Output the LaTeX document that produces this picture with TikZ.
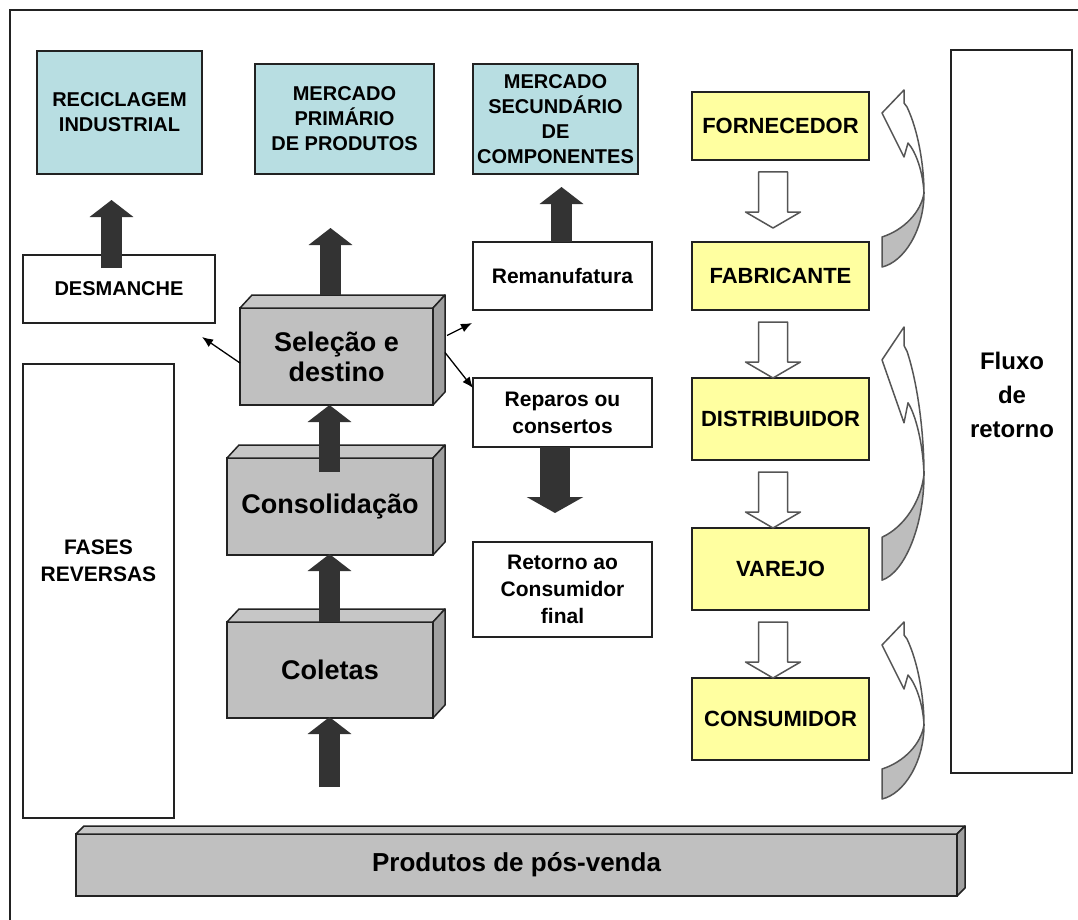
\documentclass[tikz,border=0pt]{standalone}
\usepackage{fontspec}
\setmainfont{Liberation Sans}
\usetikzlibrary{arrows.meta,calc}

\definecolor{bluebox}{RGB}{184,222,226}
\definecolor{yellowbox}{RGB}{255,255,160}
\definecolor{boxgray}{RGB}{192,192,192}
\definecolor{topgray}{RGB}{198,198,198}
\definecolor{sidegray}{RGB}{160,160,160}
\definecolor{arrowdark}{RGB}{51,51,51}
\definecolor{edgecol}{RGB}{34,34,34}
\definecolor{outlinegray}{RGB}{85,85,85}

\newcommand{\fs}[2]{\bfseries\fontsize{#1}{#2}\selectfont}

\tikzset{
  box/.style={draw=edgecol,line width=1.5pt,align=center,inner sep=0pt,outer sep=0pt},
  bluenode/.style={box,fill=bluebox,font=\fs{20}{25}},
  whitenode/.style={box,fill=white,font=\fs{21}{27}},
  yellownode/.style={box,fill=yellowbox,font=\fs{22}{27}},
  solidnode/.style={box,fill=boxgray,font=\fs{27}{30}},
  facetop/.style={draw=edgecol,line width=1.5pt,fill=topgray,line join=round},
  faceside/.style={draw=edgecol,line width=1.5pt,fill=sidegray,line join=round},
  darkup/.style={draw=arrowdark,line width=21pt,-{Triangle[length=17pt,width=43pt]},arrowdark},
  darkdown/.style={draw=arrowdark,line width=30pt,-{Triangle[length=16pt,width=56pt]},arrowdark},
  thinarrow/.style={draw=black,line width=1.3pt,-{Latex[length=11pt,width=9pt]}},
  hollowdown/.pic={
    \draw[draw=outlinegray,line width=1.5pt,fill=white,line join=round]
      (-14.5,0) -- (14.5,0) -- (14.5,40) -- (27.5,40) -- (0,56)
      -- (-27.5,40) -- (-14.5,40) -- cycle;
  },
  returnarrow/.pic={
    % lower, turned-over part of the ribbon
    \draw[draw=outlinegray,line width=1.5pt,fill=sidegray!70!white,line join=round]
      (20,103) .. controls (20,140) and (0,172) .. (-22,177)
      -- (-22,147) .. controls (0,140) and (17,122) .. (20,103) -- cycle;
    % upper part of the ribbon with its head
    \draw[draw=outlinegray,line width=1.5pt,fill=white,line join=round]
      (0,0) -- (0,13) -- (3,17) .. controls (14,40) and (20,75) .. (20,103)
      .. controls (19,82) and (12,62) .. (4,53) -- (0,67) -- (-22,23) -- cycle;
  }
}

\begin{document}
\begin{tikzpicture}[x=1pt,y=-1pt]
\useasboundingbox (0,0) rectangle (1078,920);
\fill[white] (0,0) rectangle (1078,920);

% outer frame
\draw[line width=1.5pt,edgecol] (10,920) -- (10,10) -- (1078,10);

% destinations
\node[bluenode,minimum width=165pt,minimum height=123pt] (recic) at (119.5,112.5) {RECICLAGEM\\INDUSTRIAL};
\node[bluenode,minimum width=179pt,minimum height=110pt] (mprim) at (344.5,119) {MERCADO\\PRIMÁRIO\\DE PRODUTOS};
\node[bluenode,minimum width=165pt,minimum height=110pt] (msec) at (555.5,119) {MERCADO\\SECUNDÁRIO\\DE\\COMPONENTES};

% left column
\node[box,fill=white,font=\fs{20}{25},minimum width=192pt,minimum height=68pt] (desm) at (119,289) {DESMANCHE};
\node[box,fill=white,minimum width=151pt,minimum height=454pt] (fases) at (98.5,591) {};
\node[font=\fs{21}{27},align=center] (fasestxt) at (98.5,561) {FASES\\REVERSAS};

% reverse phases (solid blocks)
\node[solidnode,minimum width=193pt,minimum height=97pt] (sel) at (336.5,356.5) {Seleção e\\destino};
\node[solidnode,minimum width=206pt,minimum height=97pt] (cons) at (330,506.5) {Consolidação};
\node[solidnode,minimum width=206pt,minimum height=96pt] (colet) at (330,670) {Coletas};
\foreach \b in {sel,cons,colet}{
  \draw[facetop] (\b.north west) -- ++(12,-13) -- ($(\b.north east)+(12,-13)$) -- (\b.north east) -- cycle;
  \draw[faceside] (\b.north east) -- ++(12,-13) -- ($(\b.south east)+(12,-13)$) -- (\b.south east) -- cycle;
}

% middle column
\node[whitenode,minimum width=179pt,minimum height=68pt] (reman) at (562.5,276) {Remanufatura};
\node[whitenode,minimum width=179pt,minimum height=69pt] (repar) at (562.5,412.5) {Reparos ou\\consertos};
\node[whitenode,minimum width=179pt,minimum height=95pt] (retor) at (562.5,589.5) {Retorno ao\\Consumidor\\final};

% forward chain
\node[yellownode,minimum width=177pt,minimum height=68pt] (forn) at (780.5,126) {FORNECEDOR};
\node[yellownode,minimum width=177pt,minimum height=68pt] (fabr) at (780.5,276) {FABRICANTE};
\node[yellownode,minimum width=177pt,minimum height=82pt] (dist) at (780.5,419) {DISTRIBUIDOR};
\node[yellownode,minimum width=177pt,minimum height=82pt] (varj) at (780.5,569) {VAREJO};
\node[yellownode,minimum width=177pt,minimum height=82pt] (cons2) at (780.5,719) {CONSUMIDOR};

% return flow column
\node[box,fill=white,minimum width=121pt,minimum height=723pt] (fluxo) at (1011.5,411.5) {};
\node[font=\fs{24}{34},align=center] (fluxotxt) at (1012,395) {Fluxo\\de\\retorno};

% after-sales products bar
\node[box,fill=boxgray,font=\fs{26}{30},minimum width=881pt,minimum height=62pt] (bar) at (516.5,865) {Produtos de pós-venda};
\draw[facetop] (bar.north west) -- ++(8,-8) -- ($(bar.north east)+(8,-8)$) -- (bar.north east) -- cycle;
\draw[faceside] (bar.north east) -- ++(8,-8) -- ($(bar.south east)+(8,-8)$) -- (bar.south east) -- cycle;

% dark block arrows
\coordinate (inflow) at ($(colet.south)+(-0.5,69)$);
\draw[darkup] ($(desm.north)+(-7.5,13)$) -- ($(recic.south)+(-8,26)$);
\draw[darkup] ($(sel.north)+(-6,-13)$) -- ($(mprim.south)+(-14,54)$);
\draw[darkup] (reman.north -| msec.south) ++(6,0) coordinate (rs) -- ($(msec.south)+(6,13)$);
\draw[darkup] ($(cons.north)+(-0.5,14)$) -- ($(sel.south)+(-7,0)$);
\draw[darkup] ($(colet.north)+(-0.5,0)$) -- ($(cons.south)+(-0.5,-1)$);
\draw[darkup] (inflow) -- ($(colet.south)+(-0.5,-1)$);
\draw[darkdown] ($(repar.south)+(-7.5,0)$) -- ($(retor.north)+(-7.5,-29)$);

% thin arrows out of the selection block
\draw[thinarrow] ($(sel.west)+(0,6.5)$) -- ($(desm.south east)+(-13,14)$);
\draw[thinarrow] ($(sel.east)+(14,-21)$) -- ($(reman.south west)+(-1,13)$);
\draw[thinarrow] ($(sel.east)+(12,-4)$) -- ($(repar.north west)+(0,10)$);

% hollow arrows of the forward chain
\pic at ($(forn.south)+(-7.5,12)$) {hollowdown};
\pic at ($(fabr.south)+(-7.5,12)$) {hollowdown};
\pic at ($(dist.south)+(-7.5,12)$) {hollowdown};
\pic at ($(varj.south)+(-7.5,12)$) {hollowdown};

% curved return arrows
\pic at (904,90) {returnarrow};
\pic[yscale=1.43] at (904,327) {returnarrow};
\pic at (904,622) {returnarrow};
\end{tikzpicture}
\end{document}
